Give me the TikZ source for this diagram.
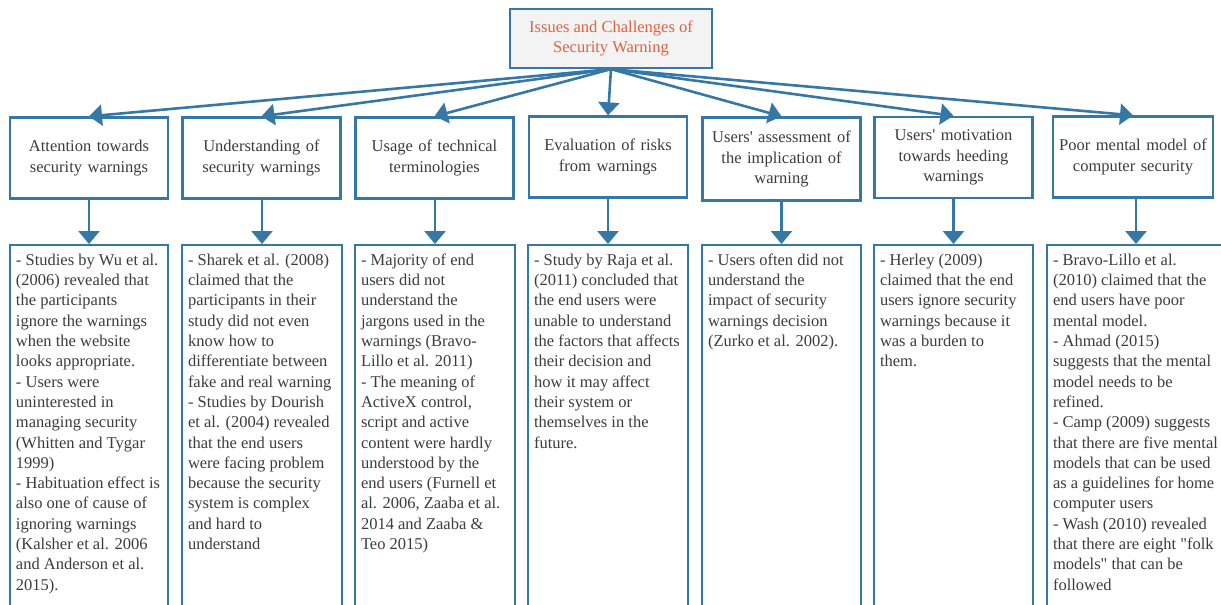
\documentclass[tikz,border=0pt]{standalone}
\usepackage{fontspec}
\setmainfont{Liberation Serif}
\usepackage{tikz}
\usetikzlibrary{arrows.meta}
\definecolor{frame}{HTML}{3578A6}
\definecolor{heading}{HTML}{DD6342}
\definecolor{bodytext}{HTML}{3C3C3C}
\definecolor{topfill}{HTML}{F3F3F3}
\newcommand{\findings}[2][146pt]{\parbox[t][372pt][t]{#1}{\raggedright\strut #2}}

\begin{document}
\begin{tikzpicture}[x=1pt, y=-1pt,
    every node/.style={font=\fontsize{16.5}{20.3}\selectfont, text=bodytext},
    topbox/.style={draw=frame, line width=2.3pt, fill=topfill, text=heading,
      minimum width=202pt, minimum height=59pt, align=center},
    issuebox/.style={draw=frame, line width=2.3pt, fill=white, minimum width=158pt,
      minimum height=81pt, text width=150pt, inner xsep=4pt, align=center},
    notebox/.style={draw=frame, line width=2.3pt, fill=white, anchor=north,
      inner xsep=6pt, inner ysep=6pt},
    conn/.style={draw=frame, line width=2.6pt, -{Triangle[width=21pt,length=13pt]}}]
  \useasboundingbox (0,0) rectangle (1221,605);
  % Root
  \node[topbox] (root) at (611,38.5) {Issues and Challenges of\\Security Warning};
  % Issues
  \node[issuebox] (att) at (89,158) {Attention towards\\security warnings};
  \node[issuebox] (und) at (261.5,158) {Understanding of\\security warnings};
  \node[issuebox] (use) at (434.5,158) {Usage of technical\\terminologies};
  \node[issuebox] (eva) at (608,157) {Evaluation of risks\\from warnings};
  \node[issuebox, minimum height=83pt] (ass) at (781.5,159)
    {Users\textquotesingle{} assessment of\\the implication of\\warning};
  \node[issuebox] (mot) at (953.5,157.5) {Users\textquotesingle{} motivation\\towards heeding\\warnings};
  \node[issuebox, minimum width=160pt] (men) at (1133,157) {Poor mental model of\\computer security};
  % Findings
  \node[notebox] (attn) at (89,244) {\findings{- Studies by Wu et al.\\(2006) revealed that\\the participants\\ignore the warnings\\when the website\\looks appropriate.\\- Users were\\uninterested in\\managing security\\(Whitten and Tygar\\1999)\\- Habituation effect is\\also one of cause of\\ignoring warnings\\(Kalsher et al. 2006\\and Anderson et al.\\2015).}};
  \node[notebox] (undn) at (262,244) {\findings[148pt]{- Sharek et al. (2008)\\claimed that the\\participants in their\\study did not even\\know how to\\differentiate between\\fake and real warning\\- Studies by Dourish\\et al. (2004) revealed\\that the end users\\were facing problem\\because the security\\system is complex\\and hard to\\understand}};
  \node[notebox] (usen) at (435,244) {\findings[148pt]{- Majority of end\\users did not\\understand the\\jargons used in the\\warnings (Bravo-\\Lillo et al. 2011)\\- The meaning of\\ActiveX control,\\script and active\\content were hardly\\understood by the\\end users (Furnell et\\al. 2006, Zaaba et al.\\2014 and Zaaba \&\\Teo 2015)}};
  \node[notebox] (evan) at (608,244) {\findings[148pt]{- Study by Raja et al.\\(2011) concluded that\\the end users were\\unable to understand\\the factors that affects\\their decision and\\how it may affect\\their system or\\themselves in the\\future.}};
  \node[notebox] (assn) at (781.5,244) {\findings[147pt]{- Users often did not\\understand the\\impact of security\\warnings decision\\(Zurko et al. 2002).}};
  \node[notebox] (motn) at (953.5,244) {\findings[147pt]{- Herley (2009)\\claimed that the end\\users ignore security\\warnings because it\\was a burden to\\them.}};
  \node[notebox] (menn) at (1136,244) {\findings[166pt]{- Bravo-Lillo et al.\\(2010) claimed that the\\end users have poor\\mental model.\\- Ahmad (2015)\\suggests that the mental\\model needs to be\\refined.\\- Camp (2009) suggests\\that there are five mental\\models that can be used\\as a guidelines for home\\computer users\\- Wash (2010) revealed\\that there are eight \textquotedbl folk\\models\textquotedbl{} that can be\\followed}};
  % Root to issues
  \draw[conn] (root.south) -- (att.north);
  \draw[conn] (root.south) -- (und.north);
  \draw[conn] (root.south) -- (use.north);
  \draw[conn] (root.south) -- (eva.north);
  \draw[conn] (root.south) -- (ass.north);
  \draw[conn] (root.south) -- (mot.north);
  \draw[conn] (root.south) -- (men.north);
  % Issues to findings
  \draw[conn] (attn.north |- att.south) -- (attn.north);
  \draw[conn] (undn.north |- und.south) -- (undn.north);
  \draw[conn] (usen.north |- use.south) -- (usen.north);
  \draw[conn] (evan.north |- eva.south) -- (evan.north);
  \draw[conn] (assn.north |- ass.south) -- (assn.north);
  \draw[conn] (motn.north |- mot.south) -- (motn.north);
  \draw[conn] (menn.north |- men.south) -- (menn.north);
\end{tikzpicture}
\end{document}
